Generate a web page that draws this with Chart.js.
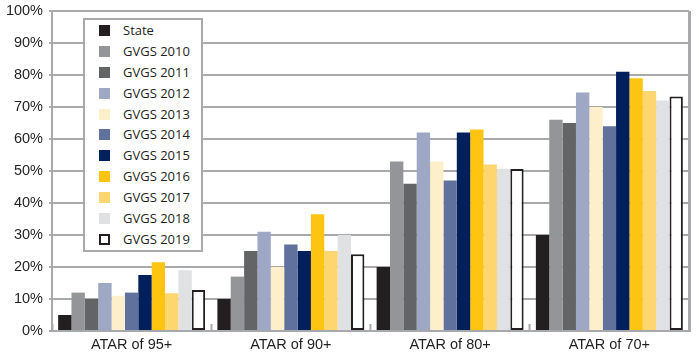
<!DOCTYPE html>
<html>
<head>
<meta charset="utf-8">
<script src="https://cdn.jsdelivr.net/npm/chart.js@4.4.0/dist/chart.umd.min.js"></script>
<style>
  html, body { margin: 0; padding: 0; background: #fff; }
  #wrap { position: relative; width: 699px; height: 358px; }
  #legend {
    position: absolute; left: 83px; top: 18px; width: 120px; height: 234px;
    box-sizing: border-box; border: 2px solid #a7a9ac; background: #fff;
    font-family: "Open Sans", sans-serif; font-size: 13px; color: #231f20;
  }
  .item { height: 20.9px; line-height: 20.9px; position: relative; padding-left: 38px; white-space: nowrap; }
  .sw { position: absolute; left: 14px; top: 5px; width: 11px; height: 11px; box-sizing: border-box; }
</style>
</head>
<body>
<div id="wrap">
  <canvas id="atarChart" width="699" height="358"></canvas>
  <div id="legend"></div>
</div>
<script>
const categories = ['ATAR of 95+', 'ATAR of 90+', 'ATAR of 80+', 'ATAR of 70+'];
const seriesNames = ['State', 'GVGS 2010', 'GVGS 2011', 'GVGS 2012', 'GVGS 2013', 'GVGS 2014',
                     'GVGS 2015', 'GVGS 2016', 'GVGS 2017', 'GVGS 2018', 'GVGS 2019'];
const state    = [5, 10, 20, 30];
const gvgs2010 = [12, 17, 53, 66];
const gvgs2011 = [10, 25, 46, 65];
const gvgs2012 = [15, 31, 62, 74.5];
const gvgs2013 = [11, 20, 53, 70];
const gvgs2014 = [12, 27, 47, 64];
const gvgs2015 = [17.5, 25, 62, 81];
const gvgs2016 = [21.5, 36.5, 63, 79];
const gvgs2017 = [11.8, 25, 52, 75];
const gvgs2018 = [19, 30, 50.7, 72];
const gvgs2019 = [12.8, 24, 50.6, 73.3];
const seriesValues = [state, gvgs2010, gvgs2011, gvgs2012, gvgs2013, gvgs2014,
                      gvgs2015, gvgs2016, gvgs2017, gvgs2018, gvgs2019];
const colors = ['#231f20', '#939598', '#636466', '#9ea8c5', '#fdefc9', '#61719d',
                '#00205b', '#fdc512', '#fed66f', '#e0e1e3', '#ffffff'];
const yTicks = [0, 10, 20, 30, 40, 50, 60, 70, 80, 90, 100];

const gridGray = '#a7a9ac';
const axisFont = { family: 'Liberation Sans', size: 14.5 };

const datasets = seriesNames.map((name, i) => {
  const last = i === seriesNames.length - 1;
  return {
    label: name,
    data: seriesValues[i],
    backgroundColor: colors[i],
    borderColor: '#231f20',
    borderWidth: last ? 2 : 0,
    borderSkipped: false
  };
});

// legend
const legendEl = document.getElementById('legend');
seriesNames.forEach((name, i) => {
  const row = document.createElement('div');
  row.className = 'item';
  const sw = document.createElement('span');
  sw.className = 'sw';
  sw.style.background = colors[i];
  if (i === seriesNames.length - 1) sw.style.border = '2px solid #231f20';
  row.appendChild(sw);
  row.appendChild(document.createTextNode(name));
  legendEl.appendChild(row);
});

const ctx = document.getElementById('atarChart').getContext('2d');
new Chart(ctx, {
  type: 'bar',
  data: { labels: categories, datasets: datasets },
  options: {
    responsive: false,
    animation: false,
    layout: { padding: { left: 6, right: 10, top: 0, bottom: 5 } },
    plugins: { legend: { display: false }, tooltip: { enabled: false } },
    datasets: { bar: { categoryPercentage: 0.923, barPercentage: 1 } },
    scales: {
      x: {
        afterFit: s => { s.height = 22; },
        grid: {
          drawOnChartArea: true,
          color: c => (c.index === undefined) ? gridGray : 'rgba(0,0,0,0)',
          lineWidth: 3,
          drawTicks: true,
          tickLength: -7,
          tickColor: gridGray,
          tickWidth: 2
        },
        border: { display: true, color: gridGray, width: 2 },
        ticks: { padding: 12, color: '#231f20', font: axisFont }
      },
      y: {
        min: 0,
        max: 100,
        afterFit: s => { s.width = 46; s.paddingTop = 11; },
        afterBuildTicks: axis => { axis.ticks = yTicks.map(v => ({ value: v })); },
        grid: { color: gridGray, lineWidth: 2, drawTicks: true, tickLength: 3 },
        border: { display: true, color: gridGray, width: 2 },
        ticks: { padding: 6, color: '#231f20', font: axisFont, callback: v => v + '%' }
      }
    }
  }
});
</script>
</body>
</html>
